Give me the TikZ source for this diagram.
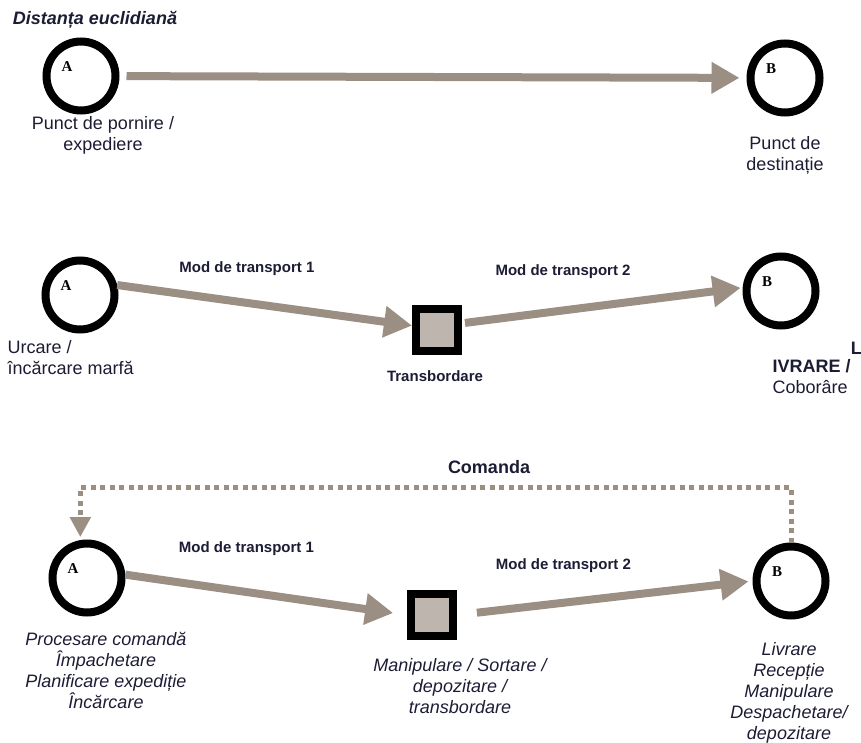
\documentclass[tikz,border=0pt]{standalone}
\usepackage{fontspec}
\setmainfont{Liberation Sans}
\newfontfamily\letterfont{Liberation Serif}
\usetikzlibrary{arrows.meta}
\definecolor{arrowgray}{RGB}{155,142,131}
\definecolor{textnavy}{RGB}{28,28,52}
\definecolor{texturegray}{RGB}{190,182,174}

\begin{document}
\begin{tikzpicture}[
    x=1pt, y=-1pt,
    point/.style={
        circle,
        draw=black,
        line width=8pt,
        minimum size=69pt,
        inner sep=0pt,
        fill=white,
        label={[letter]center:#1}
    },
    letter/.style={font=\letterfont\bfseries\fontsize{15}{15}\selectfont, xshift=-14pt, yshift=9pt},
    hub/.style={
        rectangle,
        draw=black,
        line width=8pt,
        minimum size=42pt,
        inner sep=0pt,
        fill=texturegray
    },
    flow/.style={line width=8pt, draw=arrowgray, -{Triangle[length=28pt, width=30pt]}},
    feedback/.style={line width=5pt, draw=arrowgray, dash pattern=on 5pt off 4.5pt, -{Triangle[length=20pt, width=20pt]}},
    txt/.style={text=textnavy, align=center, font=\fontsize{18}{21}\selectfont},
    mode/.style={text=textnavy, font=\bfseries\fontsize{15}{18}\selectfont}
]
\useasboundingbox (0,0) rectangle (861,743);

% Euclidean distance
\node[txt, font=\bfseries\itshape\fontsize{18}{21}\selectfont] (title) at (95,20) {Distanța euclidiană};
\node[point=A] (A1) at (81,76) {};
\node[point=B] (B1) at (785,78) {};
\draw[flow, shorten <=7pt, shorten >=7pt] (A1) -- (B1);
\node[txt] (start1) at (103,135) {Punct de pornire /\\expediere};
\node[txt] (dest1) at (785,155) {Punct de\\destinație};

% Two transport modes
\node[point=A] (A2) at (80,295) {};
\node[hub] (T2) at (437,330) {};
\node[point=B] (B2) at (781,291) {};
\draw[flow] (A2.15) -- node[mode, pos=0.44, above=20pt] (mod21) {Mod de transport 1} (T2.170);
\draw[flow, shorten <=3pt, shorten >=2pt] (T2.15) -- node[mode, pos=0.36, above=25pt] (mod22) {Mod de transport 2} (B2.175);
\node[txt, align=left, anchor=west] (start2) at (4,358) {Urcare /\\încărcare marfă};
\node[mode] (trans2) at (435,376) {Transbordare};
\node[txt, font=\bfseries\fontsize{18}{21}\selectfont, anchor=east, inner sep=0pt] (cut2) at (862,348) {L};
\node[txt, align=left, anchor=west] (dest2) at (769,377) {\textbf{IVRARE /}\\Coborâre};

% Order feedback loop
\node[point=A] (A3) at (87,578) {};
\node[hub] (S3) at (432,615) {};
\node[point=B] (B3) at (791,581) {};
\draw[feedback, shorten >=3pt] (B3.north) -- ++(0,-55) -| (A3.100);
\node[txt, font=\bfseries\fontsize{18}{21}\selectfont] (order) at (489,467) {Comanda};
\draw[flow, shorten >=14pt] (A3.5) -- node[mode, pos=0.43, above=29pt] (mod31) {Mod de transport 1} (S3.west);
\draw[flow, shorten <=20pt, shorten >=4pt] (S3.east) -- node[mode, pos=0.36, above=23pt] (mod32) {Mod de transport 2} (B3.west);
\node[txt, font=\itshape\fontsize{18}{21}\selectfont] (start3) at (106,670) {Procesare comandă\\Împachetare\\Planificare expediție\\Încărcare};
\node[txt, font=\itshape\fontsize{18}{21}\selectfont] (hub3) at (460,686) {Manipulare / Sortare /\\depozitare /\\transbordare};
\node[txt, font=\itshape\fontsize{18}{21}\selectfont] (dest3) at (789,693) {Livrare\\Recepție\\Manipulare\\Despachetare/\\depozitare};

\end{tikzpicture}
\end{document}
